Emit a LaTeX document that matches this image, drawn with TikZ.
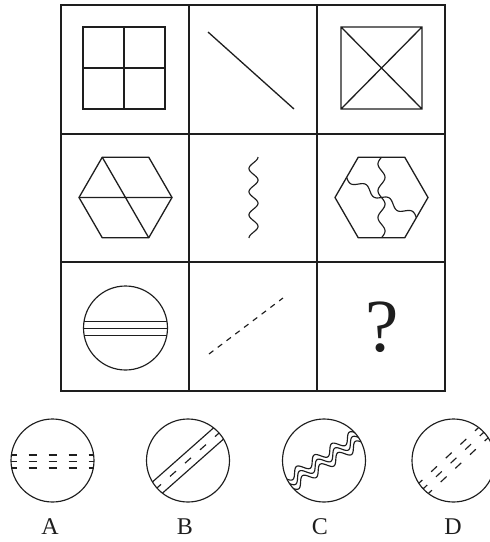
\documentclass[tikz,border=0pt]{standalone}
\usepackage{fontspec}
\setmainfont{Liberation Serif}
\usepackage{xcolor}
\usetikzlibrary{shapes.geometric,calc}
\definecolor{paper}{HTML}{FFFFFF}
\definecolor{ink}  {HTML}{1E1E1E}
\tikzset{
  gridline/.style={draw=ink,line width=1.8pt},
  figline/.style={draw=ink,line width=1.3pt},
  thinline/.style={draw=ink,line width=1.15pt},
  dashchord/.style={dash pattern=on 8pt off 12pt},
  hexnode/.style={regular polygon,regular polygon sides=6,
                  minimum size=93pt,inner sep=0pt,outer sep=0pt,figline},
  optlabel/.style={font=\fontsize{24}{28}\selectfont,inner sep=0pt,text=ink},
}
\begin{document}
\begin{tikzpicture}[x=1pt,y=-1pt]
  \useasboundingbox[fill=paper] (0,0) rectangle (490,542);
  \draw[gridline] (61,5) rectangle (445,391);
  \foreach \gx in {189,317} \draw[gridline] (\gx,5) -- (\gx,391);
  \foreach \gy in {134,262} \draw[gridline] (61,\gy) -- (445,\gy);

  \draw[figline] (83,27) rectangle (165,109) (124,27) -- (124,109) (83,68) -- (165,68);
  \draw[figline] (208,32) -- (294,109);
  \draw[figline] (341,27) rectangle (422,109) (341,27) -- (422,109) (341,109) -- (422,27);

  \node[hexnode] (hexL) at (125.5,197.5) {};
  \draw[figline] (hexL.corner 3) -- (hexL.corner 6) (hexL.corner 2) -- (hexL.corner 5);
  \draw[thinline] plot[domain=0:81,samples=90] ({253.5+4.5*cos(\x/23.14*360)},{157+\x});
  \node[hexnode] (hexR) at (381.5,197.5) {};
  \begin{scope}[shift={(381.5,157.23)},rotate=-90]
    \draw[thinline] plot[domain=0:80.5,samples=90] (\x,{3.5*sin(\x/26.83*360)});
  \end{scope}
  \begin{scope}[shift={(346.63,177.37)},rotate=-30]
    \draw[thinline] plot[domain=0:80.5,samples=90] (\x,{3.5*sin(\x/26.83*360)});
  \end{scope}

  \coordinate (disc) at (125.5,328);
  \begin{scope}
    \clip (disc) circle[radius=42pt];
    \foreach \dy in {-6.5,0.5,7.5} \draw[thinline] ($(disc)+(-45,\dy)$) -- ++(90,0);
  \end{scope}
  \draw[thinline] (disc) circle[radius=42pt];
  \draw[thinline,dash pattern=on 5.5pt off 5.5pt] (209,354) -- (283,298);
  \node[font=\fontsize{75}{80}\selectfont,inner sep=0pt,text=ink] (quest) at (382,327.5) {?};

  \foreach \name/\cx in {A/52.5,B/188,C/324,D/453.5} {
    \coordinate (opt\name) at (\cx,460.5);
    \draw[thinline] (opt\name) circle[radius=41.5pt];
  }
  \begin{scope}
    \clip (optA) circle[radius=41.5pt];
    \foreach \dy in {-5.5,1,7.5} \draw[thinline,dashchord] ($(optA)+(-44,\dy)$) -- ++(88,0);
  \end{scope}
  \begin{scope}[shift={(optB)},rotate=41.5]
    \clip (0,0) circle[radius=41.5pt];
    \draw[thinline] (-45,-7.5) -- (45,-7.5) (-45,7.5) -- (45,7.5);
    \draw[thinline,dashchord] (-44,0) -- (44,0);
  \end{scope}
  \begin{scope}[shift={(optC)},rotate=33]
    \clip (0,0) circle[radius=41.5pt];
    \foreach \off in {-5.5,0,5.5}
      \draw[thinline] plot[domain=-46:46,samples=120] (\x,{\off+4.5*sin(\x/21*360)});
  \end{scope}
  \begin{scope}[shift={(optD)},rotate=43]
    \clip (0,0) circle[radius=41.5pt];
    \foreach \off in {-7,0,7} \draw[thinline,dashchord] (-44,\off) -- (44,\off);
  \end{scope}
  \foreach \name/\lx in {A/50,B/185,C/320,D/453}
    \node[optlabel] (lab\name) at (\lx,527) {\name};
\end{tikzpicture}
\end{document}
